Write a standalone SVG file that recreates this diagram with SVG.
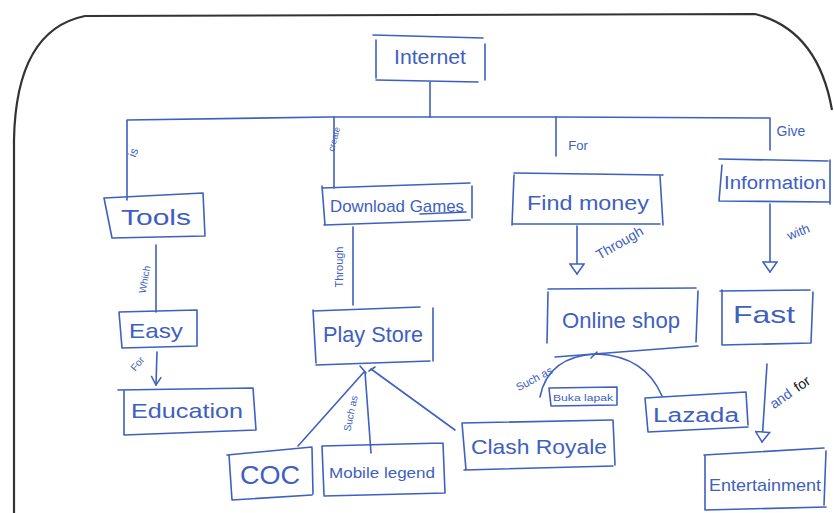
<svg xmlns="http://www.w3.org/2000/svg" width="834" height="513" viewBox="0 0 834 513">
<style>
.ink{fill:none;stroke:#3e60c0;stroke-width:1.6;stroke-linecap:round;stroke-linejoin:round}
.t{font-family:"Liberation Sans","DejaVu Sans",sans-serif;fill:#3e60c0;text-anchor:middle}
.lbl{font-family:"Liberation Sans","DejaVu Sans",sans-serif;fill:#3e60c0;text-anchor:middle}
</style>
<defs>
<marker id="vee" viewBox="0 0 12 12" refX="11" refY="6" markerWidth="12" markerHeight="12" markerUnits="userSpaceOnUse" orient="auto">
<path d="M3,1 L11,6 L2,11" fill="none" stroke="#3e60c0" stroke-width="1.5"/>
</marker>
<marker id="tri" viewBox="0 0 14 16" refX="12" refY="8" markerWidth="14" markerHeight="16" markerUnits="userSpaceOnUse" orient="auto">
<path d="M2,1 L2,15 L12,8 Z" fill="#fff" stroke="#3e60c0" stroke-width="1.5"/>
</marker>
</defs>
<rect width="834" height="513" fill="#ffffff"/>
<path d="M14,513 L14,140 Q16,30 85,16 L755,14 Q818,30 832,110" fill="none" stroke="#333" stroke-width="2.2"/>

<g id="connectors">
<path class="ink" d="M430,82 L430,117"/>
<path class="ink" d="M127,200 L127,120 L330,117 L556,117 L770,118 L770,150"/>
<path class="ink" d="M334,117 L334,188"/>
<path class="ink" d="M556,117 L556,156"/>
<path class="ink" d="M156,245 L156,312"/>
<path class="ink" d="M157,352 L156,385" marker-end="url(#vee)"/>
<path class="ink" d="M353,227 L353,305"/>
<path class="ink" d="M577,226 L577,274" marker-end="url(#tri)"/>
<path class="ink" d="M770,204 L770,272" marker-end="url(#tri)"/>
<path class="ink" d="M767,364 L762,442" marker-end="url(#tri)"/>
<path class="ink" d="M364,372 L298,446"/>
<path class="ink" d="M365,372 L371,453"/>
<path class="ink" d="M371,369 L455,430"/>
<path class="ink" d="M360,366 L366,373 M369,371 L375,367"/>
<path class="ink" d="M540,397 Q548,356 597,354 Q645,356 662,396"/>
<path class="ink" d="M597,352 L591,358"/>
</g>

<g id="internet">
<path class="ink" d="M373,35 L483,38 M376,40 L376,78 M485,44 L485,80 M376,80 L478,82"/>
<text class="t" x="430" y="64" font-size="20" textLength="72" lengthAdjust="spacingAndGlyphs">Internet</text>
</g>
<text class="lbl" font-size="12" transform="translate(137,154) rotate(-70)">is</text>
<text class="lbl" font-size="9" transform="translate(337,140) rotate(-75)">create</text>
<text class="lbl" font-size="13" x="578" y="150">For</text>
<text class="lbl" font-size="14" x="791" y="136">Give</text>

<g id="tools">
<path class="ink" d="M104,198 L203,193 L205,236 L112,238 L104,198"/>
<text class="t" x="156" y="225" font-size="22" textLength="70" lengthAdjust="spacingAndGlyphs">Tools</text>
</g>
<text class="lbl" font-size="10" transform="translate(148,280) rotate(-80)">Which</text>

<g id="easy">
<path class="ink" d="M119,312 L197,310 L197,346 L122,348 L119,312"/>
<text class="t" x="156" y="338" font-size="21" textLength="54" lengthAdjust="spacingAndGlyphs">Easy</text>
</g>
<text class="lbl" font-size="10" transform="translate(140,366) rotate(-50)">For</text>

<g id="education">
<path class="ink" d="M118,390 L253,388 L256,430 L124,435 L124,390"/>
<text class="t" x="187" y="418" font-size="21" textLength="112" lengthAdjust="spacingAndGlyphs">Education</text>
</g>

<g id="download-games">
<path class="ink" d="M322,188 L470,183 M322,186 L325,225 M472,186 L472,218 M324,225 L470,220"/>
<text class="t" x="397" y="212" font-size="17" textLength="134" lengthAdjust="spacingAndGlyphs">Download Games</text>
<path class="ink" d="M420,214 L466,212"/>
</g>
<text class="lbl" font-size="11" transform="translate(343,267) rotate(-90)">Through</text>

<g id="play-store">
<path class="ink" d="M313,311 L420,307 M313,310 L316,363 M433,308 L433,361 M316,365 L430,361"/>
<text class="t" x="373" y="342" font-size="22" textLength="100" lengthAdjust="spacingAndGlyphs">Play Store</text>
</g>
<text class="lbl" font-size="10" transform="translate(354,414) rotate(-78)">Such as</text>

<g id="coc">
<path class="ink" d="M227,455 L312,447 M229,455 L232,500 M312,448 L313,494 M232,500 L312,495"/>
<text class="t" x="270" y="484" font-size="25" textLength="60" lengthAdjust="spacingAndGlyphs">COC</text>
</g>

<g id="mobile-legend">
<path class="ink" d="M322,446 L443,443 M322,446 L324,495 M443,443 L445,493 M324,496 L445,493"/>
<text class="t" x="382" y="478" font-size="14" textLength="106" lengthAdjust="spacingAndGlyphs">Mobile legend</text>
</g>

<g id="clash-royale">
<path class="ink" d="M462,423 L612,420 M462,423 L466,470 M613,420 L615,465 M464,470 L613,466"/>
<text class="t" x="539" y="454" font-size="21" textLength="136" lengthAdjust="spacingAndGlyphs">Clash Royale</text>
</g>

<g id="find-money">
<path class="ink" d="M514,173 L663,175 M514,175 L512,225 M660,176 L663,225 M512,224 L660,224"/>
<text class="t" x="588" y="210" font-size="21" textLength="122" lengthAdjust="spacingAndGlyphs">Find money</text>
</g>
<text class="lbl" font-size="14" transform="translate(622,247) rotate(-30)">Through</text>

<g id="online-shop">
<path class="ink" d="M548,289 L696,288 M548,292 L547,343 M698,291 L696,342 M555,357 L698,346"/>
<text class="t" x="621" y="328" font-size="22" textLength="118" lengthAdjust="spacingAndGlyphs">Online shop</text>
</g>
<text class="lbl" font-size="11" transform="translate(536,382) rotate(-28)">Such as</text>

<g id="bukalapak">
<path class="ink" d="M549,388 L617,387 L617,405 L551,406 Z"/>
<text class="t" x="583" y="401" font-size="9" textLength="60" lengthAdjust="spacingAndGlyphs">Buka lapak</text>
</g>

<g id="lazada">
<path class="ink" d="M645,398 L746,392 M645,398 L648,432 M746,392 L748,425 M648,432 L748,427"/>
<text class="t" x="696" y="422" font-size="20" textLength="86" lengthAdjust="spacingAndGlyphs">Lazada</text>
</g>

<g id="information">
<path class="ink" d="M719,159 L828,161 M722,165 L719,201 M830,160 L830,204 M719,201 L830,202"/>
<text class="t" x="775" y="189" font-size="18" textLength="102" lengthAdjust="spacingAndGlyphs">Information</text>
</g>
<text class="lbl" font-size="13" transform="translate(800,236) rotate(-22)">with</text>

<g id="fast">
<path class="ink" d="M720,291 L810,290 M722,290 L722,345 M813,292 L811,343 M722,345 L811,343"/>
<text class="t" x="764" y="323" font-size="24" textLength="62" lengthAdjust="spacingAndGlyphs">Fast</text>
</g>
<g transform="translate(790,398) rotate(-35)">
<text class="lbl" font-size="14" x="-8" y="0">and</text>
<text font-family="Liberation Sans, sans-serif" font-size="14" fill="#111" x="18" y="0" text-anchor="middle">for</text>
</g>

<g id="entertainment">
<path class="ink" d="M704,455 L824,448 M705,455 L705,510 M826,451 L824,505 M705,510 L826,507"/>
<text class="t" x="765" y="491" font-size="17" textLength="112" lengthAdjust="spacingAndGlyphs">Entertainment</text>
</g>
</svg>
